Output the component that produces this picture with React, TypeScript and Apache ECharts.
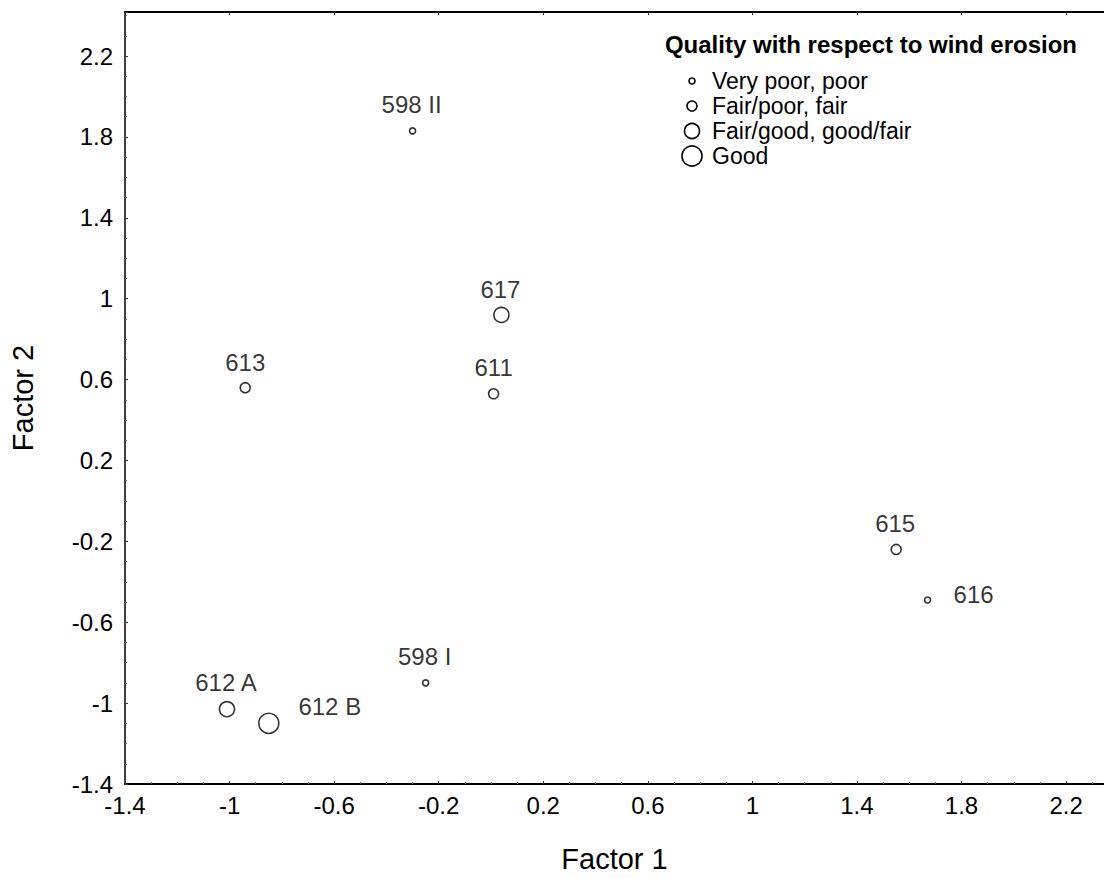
import React, { useEffect, useRef } from "react";
import * as echarts from "echarts";

const sampleNames = ["598 II", "617", "611", "613", "615", "616", "598 I", "612 A", "612 B"];
const factor1 = [-0.30, 0.04, 0.01, -0.94, 1.55, 1.67, -0.25, -1.01, -0.85];
const factor2 = [1.83, 0.92, 0.53, 0.56, -0.24, -0.49, -0.90, -1.03, -1.10];
const qualityIndex = [0, 2, 1, 1, 1, 0, 0, 2, 3];
const qualityNames = ["Very poor, poor", "Fair/poor, fair", "Fair/good, good/fair", "Good"];
const legendTitle = "Quality with respect to wind erosion";
const xTitle = "Factor 1";
const yTitle = "Factor 2";

// styling (not data)
const symbolSizes = [6, 10, 15, 20];
const labelOffsets: number[][] = [
  [-1, -26], [-1, -25], [0, -26], [0, -25], [-1, -26], [46, -5], [-1, -26], [-1, -27], [61, -17],
];

const FONT = "'Liberation Sans', Arial, Helvetica, sans-serif";

export default function App() {
  const ref = useRef<HTMLDivElement>(null);
  useEffect(() => {
    if (!ref.current) return;
    const chart = echarts.init(ref.current, undefined, { renderer: "svg" });
    const fmt = (v: number) => String(Math.round(v * 10) / 10);

    const series = qualityNames.map((qn, qi) => ({
      type: "scatter",
      name: qn,
      symbol: "circle",
      symbolSize: symbolSizes[qi],
      itemStyle: { color: "#ffffff", borderColor: "#000000", borderWidth: 1.6 },
      label: {
        show: true,
        position: "inside",
        color: "#000",
        fontSize: 24,
        fontFamily: FONT,
        formatter: (p: any) => p.data.name,
      },
      data: sampleNames
        .map((n, i) => ({ n, i }))
        .filter((d) => qualityIndex[d.i] === qi)
        .map((d) => ({
          name: d.n,
          value: [factor1[d.i], factor2[d.i]],
          label: { offset: labelOffsets[d.i] },
        })),
    }));

    const legendX = 692;
    const legendTextX = 712;
    const legendYs = [81, 106, 131, 156];
    const graphic: any[] = [
      {
        type: "text",
        x: 1077,
        y: 44,
        style: {
          text: legendTitle,
          font: `bold 24px ${FONT}`,
          fill: "#000",
          align: "right",
          verticalAlign: "middle",
        },
      },
    ];
    qualityNames.forEach((qn, qi) => {
      graphic.push({
        type: "circle",
        shape: { cx: legendX, cy: legendYs[qi], r: symbolSizes[qi] / 2 },
        style: { fill: "#fff", stroke: "#000", lineWidth: 1.6 },
      });
      graphic.push({
        type: "text",
        x: legendTextX,
        y: legendYs[qi],
        style: { text: qn, font: `23px ${FONT}`, fill: "#000", verticalAlign: "middle" },
      });
    });

    const xMin = -1.4, xMax = 2.345, yMin = -1.4, yMax = 2.418;
    chart.setOption({
      animation: false,
      backgroundColor: "#ffffff",
      grid: { left: 121, right: 0, top: 12, bottom: 76 },
      xAxis: [
        {
          type: "value",
          min: xMin,
          max: xMax,
          interval: 0.4,
          name: xTitle,
          nameLocation: "middle",
          nameGap: 60,
          nameTextStyle: { fontSize: 29, fontFamily: FONT, color: "#000" },
          axisLine: { show: true, onZero: false, lineStyle: { color: "#000", width: 2 } },
          axisTick: { show: true, inside: true, length: 3, lineStyle: { color: "#333" } },
          minorTick: { show: true, splitNumber: 4, length: 2, lineStyle: { color: "#666" } },
          axisLabel: { fontSize: 24, fontFamily: FONT, color: "#000", margin: 9, formatter: fmt, showMaxLabel: false },
          splitLine: { show: false },
        },
        {
          type: "value",
          position: "top",
          min: xMin,
          max: xMax,
          interval: 0.4,
          axisLine: { show: true, onZero: false, lineStyle: { color: "#000", width: 2 } },
          axisTick: { show: true, inside: true, length: 3, lineStyle: { color: "#333" } },
          axisLabel: { show: false },
          splitLine: { show: false },
        },
      ],
      yAxis: {
        type: "value",
        min: yMin,
        max: yMax,
        interval: 0.4,
        name: yTitle,
        nameLocation: "middle",
        nameGap: 88,
        nameRotate: 90,
        nameTextStyle: { fontSize: 29, fontFamily: FONT, color: "#000" },
        axisLine: { show: true, onZero: false, lineStyle: { color: "#000", width: 1.5 } },
        axisTick: { show: true, inside: true, length: 3, lineStyle: { color: "#333" } },
        minorTick: { show: true, splitNumber: 4, length: 2, lineStyle: { color: "#666" } },
        axisLabel: { fontSize: 24, fontFamily: FONT, color: "#000", margin: 12, formatter: fmt, showMaxLabel: false },
        splitLine: { show: false },
      },
      graphic,
      series,
    });
    return () => chart.dispose();
  }, []);
  return (
    <div
      ref={ref}
      style={{ position: "fixed", left: 0, top: 0, width: 1104, height: 878, background: "#fff" }}
    />
  );
}
